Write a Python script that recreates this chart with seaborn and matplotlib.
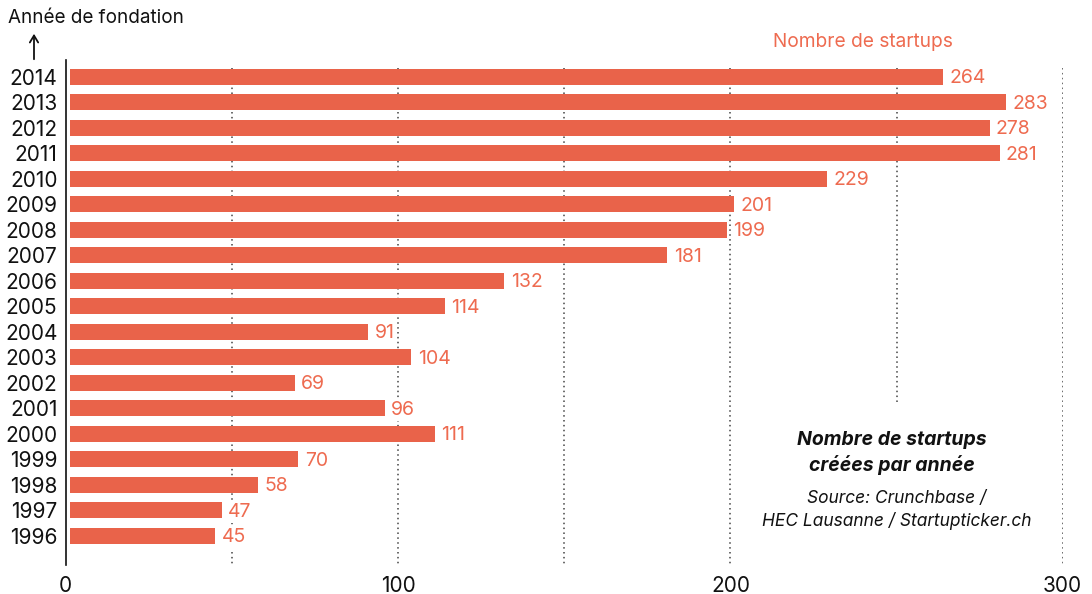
import matplotlib
matplotlib.use("Agg")
import matplotlib.pyplot as plt
from matplotlib.patches import Rectangle, FancyArrowPatch
import seaborn as sns
import pandas as pd

years = ["2014", "2013", "2012", "2011", "2010", "2009", "2008", "2007", "2006",
         "2005", "2004", "2003", "2002", "2001", "2000", "1999", "1998", "1997", "1996"]
startups = [264, 283, 278, 281, 229, 201, 199, 181, 132,
            114, 91, 104, 69, 96, 111, 70, 58, 47, 45]
x_ticks = [0, 100, 200, 300]
grid_values = [50, 100, 150, 200, 250, 300]

BAR = "#E9634A"
LABEL = "#EE6B50"
INK = "#111111"

sns.set_theme(style="white")
plt.rcParams["font.family"] = ["Inter", "DejaVu Sans"]

df = pd.DataFrame({"annee": years, "n": startups})

fig = plt.figure(figsize=(10.92, 5.94), dpi=100)
ax = fig.add_axes([0.0602, 0.0488, 0.9130, 0.8502])

sns.barplot(data=df, y="annee", x="n", order=years, color=BAR, saturation=1,
            width=0.63, orient="h", ax=ax, zorder=2, linewidth=0, edgecolor="none")

# small gap between the axis line and the start of the bars
gap = 1.3
for p in ax.patches:
    w = p.get_width()
    p.set_x(gap)
    p.set_width(w - gap)

ax.set_xlim(0, 300)
ax.set_ylim(19.15, -0.655)

# dotted reference lines behind the bars
ax.vlines(grid_values, ymin=-0.34, ymax=19.15, colors="#444444",
          linestyles=(0, (1, 2.2)), linewidth=1.1, zorder=0.5)

# value labels with a white background
for i, v in enumerate(startups):
    ax.text(v + 1.9, i + 0.06, str(v), color=LABEL, fontsize=14, va="center", ha="left",
            zorder=4, bbox=dict(boxstyle="square,pad=0.12", fc="white", ec="none"))

ax.set_xticks(x_ticks)
ax.set_xticklabels([str(t) for t in x_ticks], fontsize=15, color=INK)
ax.tick_params(axis="x", length=0, pad=8)
ax.tick_params(axis="y", length=0, pad=6, labelsize=15, labelcolor=INK)
ax.set_xlabel("")
ax.set_ylabel("")

for s in ["top", "right", "bottom"]:
    ax.spines[s].set_visible(False)
ax.spines["left"].set_color(INK)
ax.spines["left"].set_linewidth(1.2)
ax.spines["left"].set_zorder(5)

# white panel holding the caption
ax.add_patch(Rectangle((207, 12.86), 90, 7, facecolor="white",
                       edgecolor="none", zorder=3))

ax.text(248.5, 14.75, "Nombre de startups\ncréées par année", ha="center", va="center",
        fontsize=14, fontweight="bold", fontstyle="italic", color=INK,
        linespacing=1.4, zorder=4)
ax.text(250.0, 16.98, "Source: Crunchbase /\nHEC Lausanne / Startupticker.ch",
        ha="center", va="center", fontsize=12.5, fontstyle="italic",
        color=INK, linespacing=1.35, zorder=4)

# series title and axis title
fig.text(863 / 1092, 1 - 42 / 594, "Nombre de startups", color=LABEL, fontsize=13.8,
         ha="center", va="center")
fig.text(8 / 1092, 1 - 18 / 594, "Année de fondation", color=INK, fontsize=13.6,
         ha="left", va="center")
fig.add_artist(FancyArrowPatch(
    (34 / 1092, 1 - 62 / 594), (34 / 1092, 1 - 31 / 594),
    transform=fig.transFigure, arrowstyle="->,head_length=5,head_width=3",
    color=INK, linewidth=1.3, mutation_scale=1))

fig.savefig("out.png", dpi=100)
